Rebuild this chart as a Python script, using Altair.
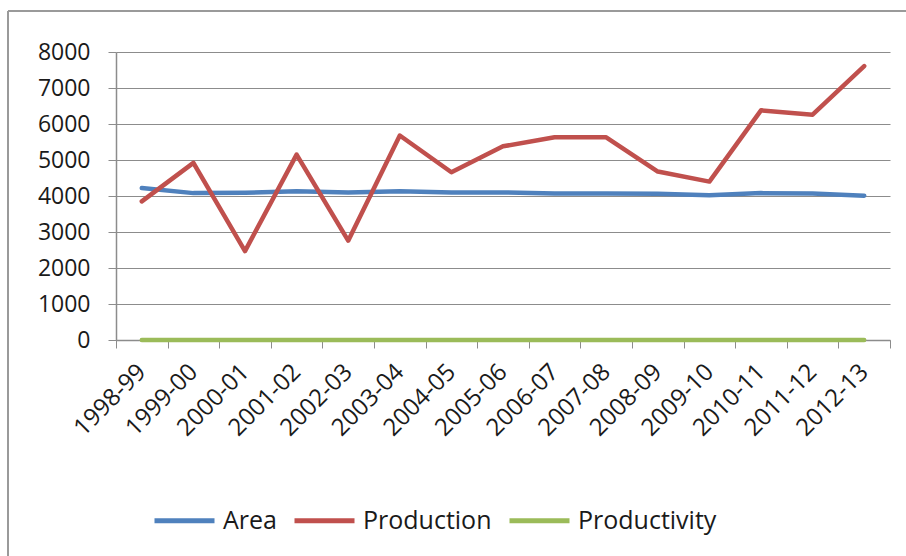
import altair as alt
import pandas as pd

years = ["1998-99", "1999-00", "2000-01", "2001-02", "2002-03", "2003-04", "2004-05",
         "2005-06", "2006-07", "2007-08", "2008-09", "2009-10", "2010-11", "2011-12", "2012-13"]
area = [4220, 4080, 4090, 4130, 4100, 4130, 4100, 4100, 4070, 4070, 4060, 4020, 4080, 4070, 4010]
production = [3850, 4920, 2470, 5150, 2760, 5680, 4660, 5380, 5630, 5630, 4680, 4400, 6380, 6260, 7610]
productivity = [0.91, 1.21, 0.60, 1.25, 0.67, 1.38, 1.14, 1.31, 1.38, 1.38, 1.15, 1.09, 1.56, 1.54, 1.90]

series_names = ["Area", "Production", "Productivity"]
series_colors = ["#4F81BD", "#C0504D", "#9BBB59"]

rows = []
for name, vals in zip(series_names, [area, production, productivity]):
    for i, (y, v) in enumerate(zip(years, vals)):
        rows.append({"Year": y, "Series": name, "Value": v, "order": series_names.index(name)})
df = pd.DataFrame(rows)

FONT = "Open Sans"
GRID = "#8C8C8C"

lines = alt.Chart(df).mark_line(strokeWidth=4.5, strokeCap="round", strokeJoin="round").encode(
    x=alt.X("Year:N", sort=years, bandPosition=0.5,
            scale=alt.Scale(type="band", paddingInner=0, paddingOuter=0),
            axis=alt.Axis(title=None, labelAngle=-45, labelAlign="right", labelBaseline="middle",
                          tickBand="extent", ticks=True, tickSize=8, tickColor=GRID,
                          domainColor=GRID, domainWidth=1.5, grid=False,
                          labelFont=FONT, labelFontSize=24, labelColor="#1a1a1a",
                          labelPadding=20, labelOverlap=False)),
    y=alt.Y("Value:Q", scale=alt.Scale(domain=[0, 8000], nice=False),
            axis=alt.Axis(title=None, values=list(range(0, 8001, 1000)), format="d", grid=True,
                          gridColor=GRID, gridWidth=1.2, tickColor=GRID, tickSize=8,
                          domainColor=GRID, domainWidth=1.5,
                          labelFont=FONT, labelFontSize=23, labelColor="#1a1a1a",
                          labelPadding=18)),
    color=alt.Color("Series:N", sort=series_names,
                    scale=alt.Scale(domain=series_names, range=series_colors),
                    legend=alt.Legend(title=None, orient="none", direction="horizontal",
                                      legendX=36, legendY=436, symbolType="stroke",
                                      symbolSize=3600, symbolStrokeWidth=5,
                                      labelFont=FONT, labelFontSize=25, labelColor="#1a1a1a",
                                      labelOffset=6, columnPadding=7, padding=0)),
    order=alt.Order("order:Q"),
)

frame_df = pd.DataFrame({"k": [0]})
frame_top = alt.Chart(frame_df).mark_rule(color="#9A9A9A", strokeWidth=2).encode(
    x=alt.value(-108), x2=alt.value(800), y=alt.value(-41))
frame_left = alt.Chart(frame_df).mark_rule(color="#9A9A9A", strokeWidth=2).encode(
    x=alt.value(-108), y=alt.value(-41), y2=alt.value(520))

chart = alt.layer(frame_top, frame_left, lines).properties(
    width=774, height=288,
    padding={"left": 116, "top": 52, "right": 16, "bottom": 216},
    autosize=alt.AutoSizeParams(type="none"),
).configure_view(stroke=None)

chart.save("out.html", embed_options={"renderer": "svg", "actions": False})
